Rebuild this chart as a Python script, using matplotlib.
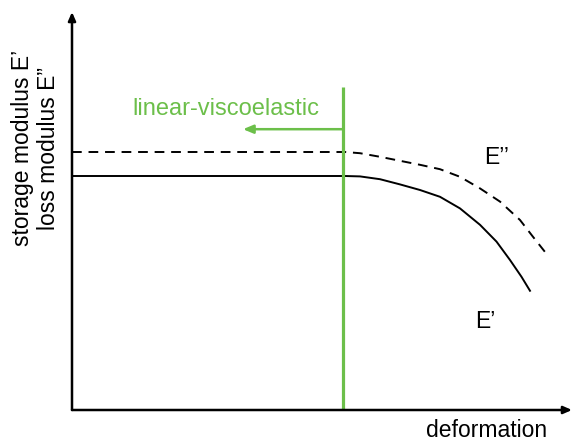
import matplotlib
matplotlib.use("Agg")
import matplotlib.pyplot as plt

plt.rcParams['font.family'] = ['Liberation Sans', 'DejaVu Sans']

# Storage modulus E' (solid)
e1_x = [0.0, 5.46, 5.76, 6.16, 6.56, 6.96, 7.36, 7.76, 8.16, 8.49, 8.76, 8.99, 9.17]
e1_y = [5.85, 5.85, 5.84, 5.77, 5.64, 5.50, 5.33, 5.04, 4.63, 4.21, 3.75, 3.33, 2.96]
# Loss modulus E'' (dashed)
e2_x = [0.0, 5.46, 5.76, 6.16, 6.56, 6.96, 7.36, 7.76, 8.16, 8.56, 8.96, 9.22, 9.48]
e2_y = [6.45, 6.45, 6.42, 6.33, 6.23, 6.13, 6.02, 5.83, 5.54, 5.21, 4.75, 4.33, 3.92]

lve_limit = 5.42
lve_top = 8.075
arrow_y = 7.02
arrow_tip = 3.42

green = '#6cbf4a'
fs = 16.5

fig = plt.figure(figsize=(5.72, 4.43), dpi=100)
ax = fig.add_axes([72/572, 33/443, 500/572, 398/443])
ax.set_xlim(0, 10)
ax.set_ylim(0, 9.95)
for s in ax.spines.values():
    s.set_visible(False)
ax.set_xticks([])
ax.set_yticks([])
ax.patch.set_alpha(0)

# axes with arrows
ax.annotate('', xy=(1.0, 0), xytext=(0, 0), xycoords='axes fraction',
            arrowprops=dict(arrowstyle='-|>,head_length=0.5,head_width=0.22', lw=1.8, color='black',
                            shrinkA=0, shrinkB=0), annotation_clip=False)
ax.annotate('', xy=(0, 1.0), xytext=(0, 0), xycoords='axes fraction',
            arrowprops=dict(arrowstyle='-|>,head_length=0.5,head_width=0.22', lw=1.8, color='black',
                            shrinkA=0, shrinkB=0), annotation_clip=False)

ax.plot(e1_x, e1_y, color='black', lw=1.4, solid_capstyle='butt', solid_joinstyle='round')
ax.plot(e2_x, e2_y, color='black', lw=1.4, linestyle=(0, (5, 3.5)))

ax.plot([lve_limit, lve_limit], [0, lve_top], color=green, lw=2.3, solid_capstyle='butt')
ax.annotate('', xy=(arrow_tip, arrow_y), xytext=(lve_limit, arrow_y),
            arrowprops=dict(arrowstyle='-|>,head_length=0.6,head_width=0.25', lw=1.8, color=green,
                            shrinkA=0, shrinkB=0))
ax.text(3.07, 7.375, 'linear-viscoelastic', color=green, fontsize=17, ha='center', va='baseline')

ax.text(8.5, 6.15, "E\u2019\u2019", fontsize=fs, ha='center', va='baseline')
ax.text(8.27, 2.05, "E\u2019", fontsize=fs, ha='center', va='baseline')

fig.text(23/572, 1 - 148/443, "storage modulus E\u2019", rotation=90, fontsize=fs,
         ha='center', va='center')
fig.text(49/572, 1 - 148/443, "loss modulus E\u201d", rotation=90, fontsize=fs,
         ha='center', va='center')
fig.text(487/572, 1 - 437/443, "deformation", fontsize=fs, ha='center', va='baseline')

fig.savefig('out.png', dpi=100)
